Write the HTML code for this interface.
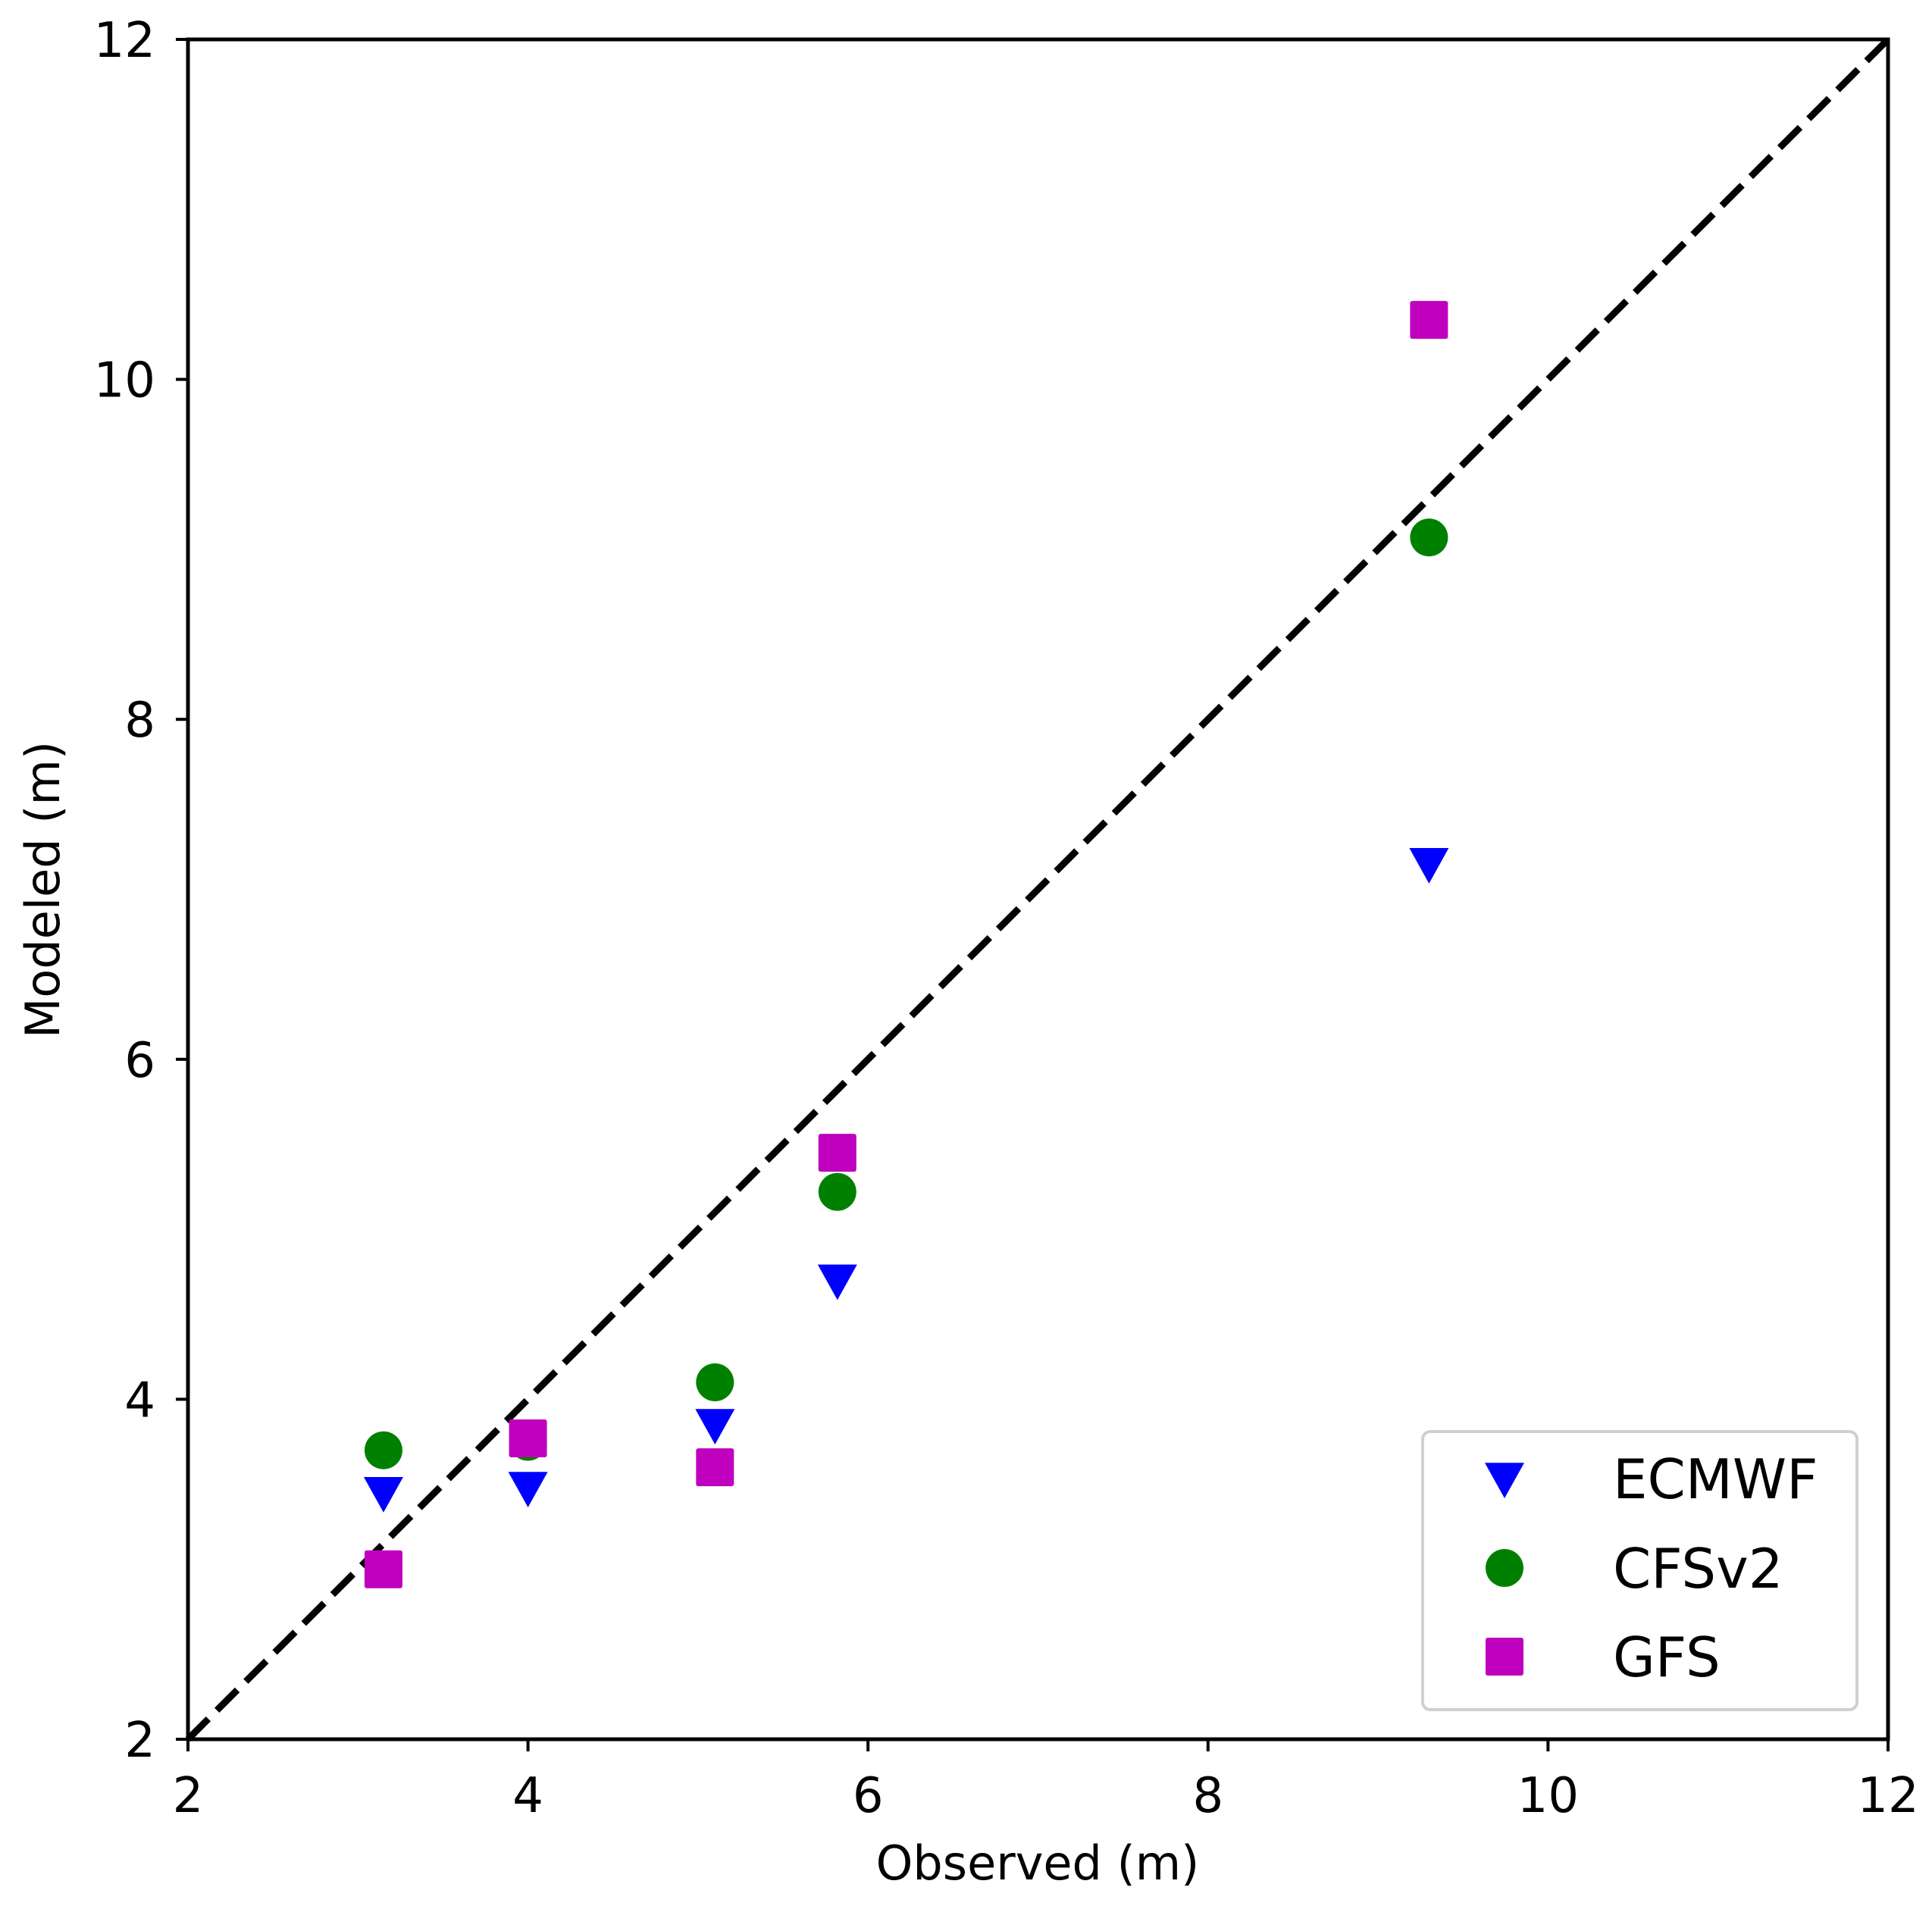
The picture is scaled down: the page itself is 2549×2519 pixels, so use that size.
<!DOCTYPE html>
<html><head><meta charset="utf-8"><style>
html,body{margin:0;padding:0;background:#fff;}
svg{display:block;font-family:"DejaVu Sans","Liberation Sans",sans-serif;}
</style></head><body>
<svg id="chart" width="2549" height="2519" viewBox="0 0 2549 2519" xmlns="http://www.w3.org/2000/svg">
<g id="marks"></g>
</svg>
<script>
const xTicks = [2,4,6,8,10,12];
const yTicks = [2,4,6,8,10,12];
const observed = [3.15, 4.0, 5.1, 5.82, 9.3];
const ecmwf = [3.45, 3.48, 3.85, 4.7, 7.15];
const cfsv2 = [3.7, 3.75, 4.1, 5.22, 9.07];
const gfs = [3.0, 3.77, 3.6, 5.45, 10.35];

const L=248,R=2491,T=52,B=2295;
const X=v=>L+(v-2)/10*(R-L);
const Y=v=>B-(v-2)/10*(B-T);
const svg=document.getElementById('chart');
const NS='http://www.w3.org/2000/svg';
function mk(tag,attrs){const e=document.createElementNS(NS,tag);for(const k in attrs)e.setAttribute(k,attrs[k]);svg.appendChild(e);return e;}

let d=mk('line',{x1:X(2),y1:Y(2),x2:X(12),y2:Y(12),stroke:'#000','stroke-width':9,'stroke-dasharray':'38 16'});



function tri(cx,cy,name){const s=26;const p=mk('polygon',{points:`${cx-s},${cy-s*0.8} ${cx+s},${cy-s*0.8} ${cx},${cy+s*1.0}`,fill:'#0000ff'});}
function circ(cx,cy,name){const c=mk('circle',{cx:cx,cy:cy,r:25,fill:'#008000'});}
function sq(cx,cy,name){const r=mk('rect',{x:cx-25,y:cy-25,width:50,height:50,rx:3,fill:'#bf00bf'});}

observed.forEach((o,i)=>tri(X(o),Y(ecmwf[i]),'ecmwf-point'));
observed.forEach((o,i)=>circ(X(o),Y(cfsv2[i]),'cfsv2-point'));
observed.forEach((o,i)=>sq(X(o),Y(gfs[i]),'gfs-point'));

let f=mk('rect',{x:L,y:T,width:R-L,height:B-T,fill:'none',stroke:'#000','stroke-width':5});



xTicks.forEach(t=>{
 let l=mk('line',{x1:X(t),y1:B,x2:X(t),y2:B+16,stroke:'#000','stroke-width':4});
 
 
 let tx=mk('text',{x:X(t),y:2391,'font-size':64,'text-anchor':'middle',fill:'#000'});tx.textContent=t;
 
 
});
yTicks.forEach(t=>{
 let l=mk('line',{x1:L-16,y1:Y(t),x2:L,y2:Y(t),stroke:'#000','stroke-width':4});
 
 
 let tx=mk('text',{x:205,y:Y(t)+23,'font-size':64,'text-anchor':'end',fill:'#000'});tx.textContent=t;
 
 
});
let xl=mk('text',{x:1369,y:2480,'font-size':62,'text-anchor':'middle',fill:'#000'});xl.textContent='Observed (m)';


let yl=mk('text',{x:78,y:1174,'font-size':62,'text-anchor':'middle',fill:'#000',transform:'rotate(-90 78 1174)'});yl.textContent='Modeled (m)';



let lg=mk('rect',{x:1877,y:1889,width:573,height:367,rx:10,fill:'#fff',stroke:'#d0d0d0','stroke-width':4});


const names=['ECMWF','CFSv2','GFS'];const ys=[1951,2069,2186];
tri(1985,ys[0],'legend-marker-ecmwf');circ(1985,ys[1],'legend-marker-cfsv2');sq(1985,ys[2],'legend-marker-gfs');
names.forEach((n,i)=>{let t=mk('text',{x:2128,y:ys[i]+26,'font-size':72,fill:'#000'});t.textContent=n;
 
 });
</script>
</body></html>
